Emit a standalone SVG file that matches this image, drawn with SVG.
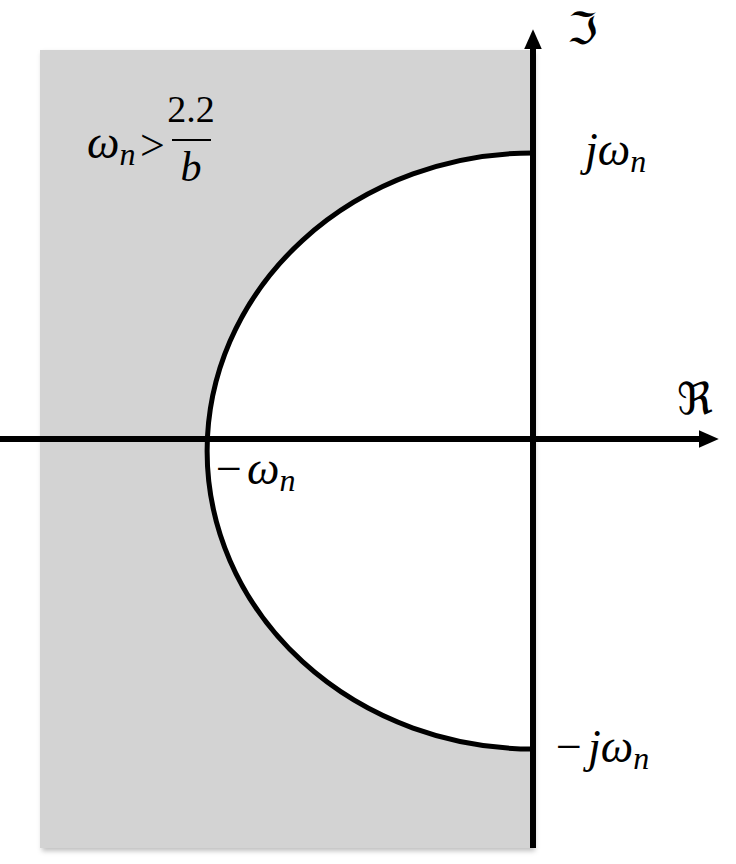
<svg xmlns="http://www.w3.org/2000/svg" width="736" height="864" viewBox="0 0 736 864">
  <defs>
    <filter id="shadow" x="-5%" y="-5%" width="110%" height="110%">
      <feDropShadow dx="2" dy="3" stdDeviation="2.5" flood-color="#000" flood-opacity="0.25"/>
    </filter>
    <marker id="arrow" markerUnits="userSpaceOnUse" markerWidth="20" markerHeight="20" viewBox="0 0 18 18" refX="2" refY="9" orient="auto">
      <path d="M0,1 L18,9 L0,17 Z" fill="#000"/>
    </marker>
  </defs>
  <style>
    .axis { stroke: #000; stroke-width: 6; fill: none; }
    .lbl { font-family: "Liberation Serif", "DejaVu Serif", serif; fill: #000; }
    .it { font-style: italic; }
    .fr { font-family: "DejaVu Serif", "DejaVu Sans", serif; fill: #000; font-size: 44px; }
  </style>
  <rect width="736" height="864" fill="#fff"/>
  <g id="region">
    <rect x="40" y="50" width="493" height="798" fill="#d3d3d3" filter="url(#shadow)"/>
    <path d="M533,153 A326,298 0 0 0 533,749 Z" fill="#fff"/>
  </g>
  <g id="boundary">
    <path d="M533,153 A326,298 0 0 0 533,749" fill="none" stroke="#000" stroke-width="5"/>
  </g>
  <g id="connectors">
    <line class="axis" x1="0" y1="439" x2="701" y2="439" marker-end="url(#arrow)"/>
    <line class="axis" x1="533" y1="848" x2="533" y2="47" marker-end="url(#arrow)"/>
  </g>
  <g id="label-condition" class="lbl">
    <text class="it" x="87" y="158" font-size="46">ω<tspan font-size="32" dy="7">n</tspan></text>
    <text x="140" y="160" font-size="44">&gt;</text>
    <text x="191" y="122" font-size="38" text-anchor="middle">2.2</text>
    <line x1="172" y1="140" x2="211" y2="140" stroke="#000" stroke-width="2"/>
    <text class="it" x="191" y="181" font-size="42" text-anchor="middle">b</text>
  </g>
  <g id="label-jwn" class="lbl">
    <text class="it" x="585" y="165" font-size="46">jω<tspan font-size="32" dy="7">n</tspan></text>
  </g>
  <g id="label-neg-wn" class="lbl">
    <text x="216" y="484" font-size="46">−</text>
    <text class="it" x="247" y="484" font-size="46">ω<tspan font-size="32" dy="7">n</tspan></text>
  </g>
  <g id="label-neg-jwn" class="lbl">
    <text x="556" y="762" font-size="46">−</text>
    <text class="it" x="588" y="762" font-size="46">jω<tspan font-size="32" dy="7">n</tspan></text>
  </g>
  <g id="label-re">
    <text class="fr" x="677" y="414">ℜ</text>
  </g>
  <g id="label-im">
    <text class="fr" x="567" y="44">ℑ</text>
  </g>
</svg>
